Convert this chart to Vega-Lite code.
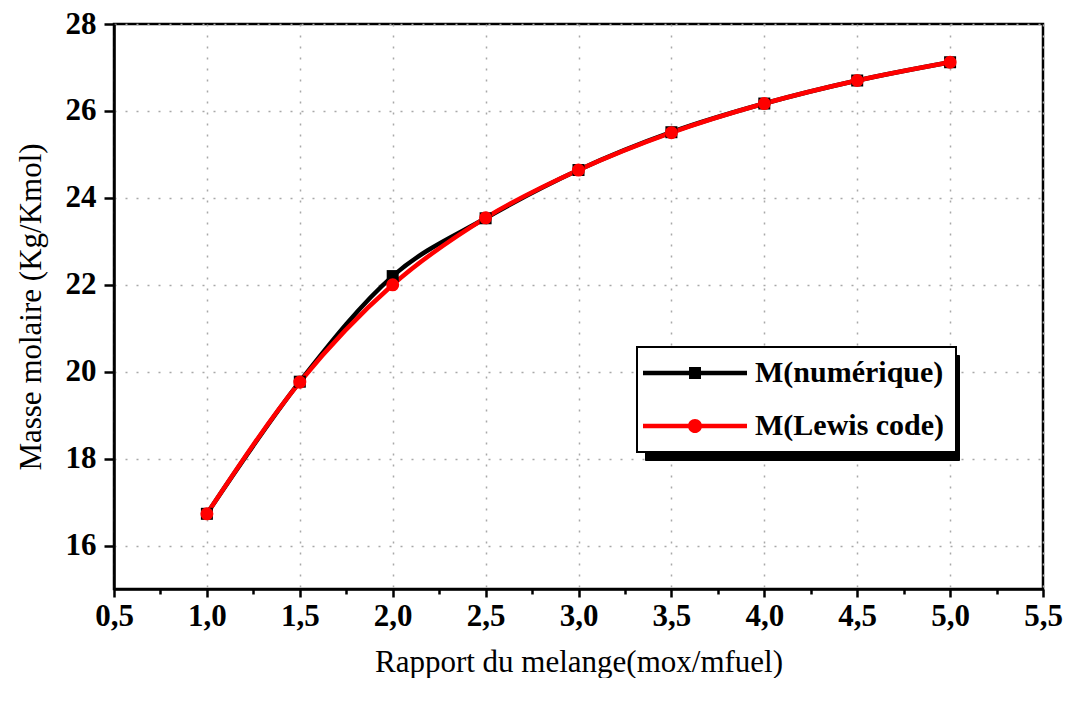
{
  "$schema": "https://vega.github.io/schema/vega-lite/v6.json",
  "width": 929,
  "height": 565,
  "autosize": {"type": "none"},
  "padding": {"left": 114, "top": 24, "right": 29, "bottom": 89},
  "background": "white",
  "config": {
    "view": {"stroke": "black", "strokeWidth": 2.5},
    "font": "Liberation Serif",
    "axis": {
      "domainColor": "black",
      "domainWidth": 2.5,
      "tickColor": "black",
      "tickWidth": 2.5,
      "labelFont": "Liberation Serif",
      "labelFontWeight": "bold",
      "labelFontSize": 31,
      "labelColor": "black",
      "titleFont": "Liberation Serif",
      "titleFontWeight": "normal",
      "titleFontSize": 31,
      "titleColor": "black",
      "gridColor": "#a8a8a8",
      "gridDash": [2, 9],
      "gridWidth": 1.5
    }
  },
  "data": {
    "values": [
      {"x": 1.0, "y": 16.73, "series": "M(numérique)"},
      {"x": 1.5, "y": 19.77, "series": "M(numérique)"},
      {"x": 2.0, "y": 22.2, "series": "M(numérique)"},
      {"x": 2.5, "y": 23.53, "series": "M(numérique)"},
      {"x": 3.0, "y": 24.64, "series": "M(numérique)"},
      {"x": 3.5, "y": 25.51, "series": "M(numérique)"},
      {"x": 4.0, "y": 26.17, "series": "M(numérique)"},
      {"x": 4.5, "y": 26.7, "series": "M(numérique)"},
      {"x": 5.0, "y": 27.12, "series": "M(numérique)"},
      {"x": 1.0, "y": 16.73, "series": "M(Lewis code)"},
      {"x": 1.5, "y": 19.76, "series": "M(Lewis code)"},
      {"x": 2.0, "y": 22.0, "series": "M(Lewis code)"},
      {"x": 2.5, "y": 23.54, "series": "M(Lewis code)"},
      {"x": 3.0, "y": 24.64, "series": "M(Lewis code)"},
      {"x": 3.5, "y": 25.5, "series": "M(Lewis code)"},
      {"x": 4.0, "y": 26.17, "series": "M(Lewis code)"},
      {"x": 4.5, "y": 26.7, "series": "M(Lewis code)"},
      {"x": 5.0, "y": 27.12, "series": "M(Lewis code)"}
    ]
  },
  "encoding": {
    "x": {
      "field": "x",
      "type": "quantitative",
      "scale": {"domain": [0.5, 5.5], "nice": false, "zero": false},
      "axis": {
        "title": "Rapport du melange(mox/mfuel)",
        "values": [0.5, 0.75, 1, 1.25, 1.5, 1.75, 2, 2.25, 2.5, 2.75, 3, 3.25, 3.5, 3.75, 4, 4.25, 4.5, 4.75, 5, 5.25, 5.5],
        "labelExpr": "(datum.value * 2) % 1 == 0 ? replace(format(datum.value, '.1f'), '.', ',') : ''",
        "tickSize": {"condition": {"test": "(datum.value * 2) % 1 != 0", "value": 5}, "value": 8},
        "gridOpacity": {"condition": {"test": "(datum.value * 2) % 1 != 0", "value": 0}, "value": 1},
        "labelPadding": 4,
        "titlePadding": 16,
        "labelFlush": false,
        "labelOverlap": false
      }
    },
    "y": {
      "field": "y",
      "type": "quantitative",
      "scale": {"domain": [15, 28], "nice": false, "zero": false},
      "axis": {
        "title": "Masse molaire (Kg/Kmol)",
        "values": [16, 18, 20, 22, 24, 26, 28],
        "tickSize": 10,
        "labelPadding": 8,
        "titlePadding": 18,
        "labelFlush": false,
        "labelOverlap": false
      }
    }
  },
  "layer": [
    {
      "mark": {"type": "point", "filled": true, "size": 100, "opacity": 0},
      "encoding": {
        "color": {
          "field": "series",
          "type": "nominal",
          "scale": {"domain": ["M(numérique)", "M(Lewis code)"], "range": ["black", "#ff0000"]},
          "legend": {
            "title": null,
            "orient": "none",
            "legendX": 523,
            "legendY": 323,
            "fillColor": "white",
            "strokeColor": "black",
            "padding": 11,
            "symbolSize": 676,
            "symbolOffset": 32,
            "symbolStrokeWidth": 0,
            "symbolOpacity": 1,
            "labelOffset": 45,
            "labelFont": "Liberation Serif",
            "labelFontWeight": "bold",
            "labelFontSize": 30,
            "labelColor": "black",
            "labelLimit": 400,
            "rowPadding": 23,
            "zindex": 2,
            "encode": {"legend": {"update": {"strokeWidth": {"value": 2}}}}
          }
        },
        "shape": {
          "field": "series",
          "type": "nominal",
          "scale": {
            "domain": ["M(numérique)", "M(Lewis code)"],
            "range": [
              "M-4,-0.17H4V0.17H-4Z M-0.46,-0.46H0.46V0.46H-0.46Z",
              "M-4,-0.17H4V0.17H-4Z M-0.54,0A0.54,0.54,0,1,1,0.54,0A0.54,0.54,0,1,1,-0.54,0Z"
            ]
          },
          "legend": {
            "title": null,
            "orient": "none",
            "legendX": 523,
            "legendY": 323,
            "fillColor": "white",
            "strokeColor": "black",
            "padding": 11,
            "symbolSize": 676,
            "symbolOffset": 32,
            "symbolStrokeWidth": 0,
            "symbolOpacity": 1,
            "labelOffset": 45,
            "labelFont": "Liberation Serif",
            "labelFontWeight": "bold",
            "labelFontSize": 30,
            "labelColor": "black",
            "labelLimit": 400,
            "rowPadding": 23,
            "zindex": 2,
            "encode": {"legend": {"update": {"strokeWidth": {"value": 2}}}}
          }
        },
        "strokeDash": {
          "field": "series",
          "type": "nominal",
          "scale": {"domain": ["M(Lewis code)", "M(numérique)"], "range": [[1, 0], [1, 0]]},
          "legend": {
            "title": null,
            "orient": "none",
            "legendX": 531,
            "legendY": 331,
            "fillColor": "black",
            "strokeColor": "black",
            "padding": 11,
            "symbolType": "M-4,-0.54H18.8V0.54H-4Z",
            "symbolSize": 676,
            "symbolOffset": 32,
            "symbolStrokeWidth": 0,
            "symbolFillColor": "black",
            "symbolOpacity": 1,
            "labelExpr": "''",
            "labelOffset": 45,
            "labelFont": "Liberation Serif",
            "labelFontWeight": "bold",
            "labelFontSize": 30,
            "labelColor": "black",
            "labelLimit": 400,
            "rowPadding": 23,
            "zindex": 1
          }
        }
      }
    },
    {
      "mark": {"type": "line", "interpolate": "monotone", "strokeWidth": 4.5},
      "encoding": {
        "color": {"field": "series", "type": "nominal", "legend": null}
      }
    },
    {
      "transform": [{"filter": "datum.series == 'M(numérique)'"}],
      "mark": {"type": "point", "shape": "square", "filled": true, "size": 144, "color": "black", "opacity": 1}
    },
    {
      "transform": [{"filter": "datum.series == 'M(Lewis code)'"}],
      "mark": {"type": "point", "shape": "circle", "filled": true, "size": 170, "color": "#ff0000", "opacity": 1}
    }
  ]
}
